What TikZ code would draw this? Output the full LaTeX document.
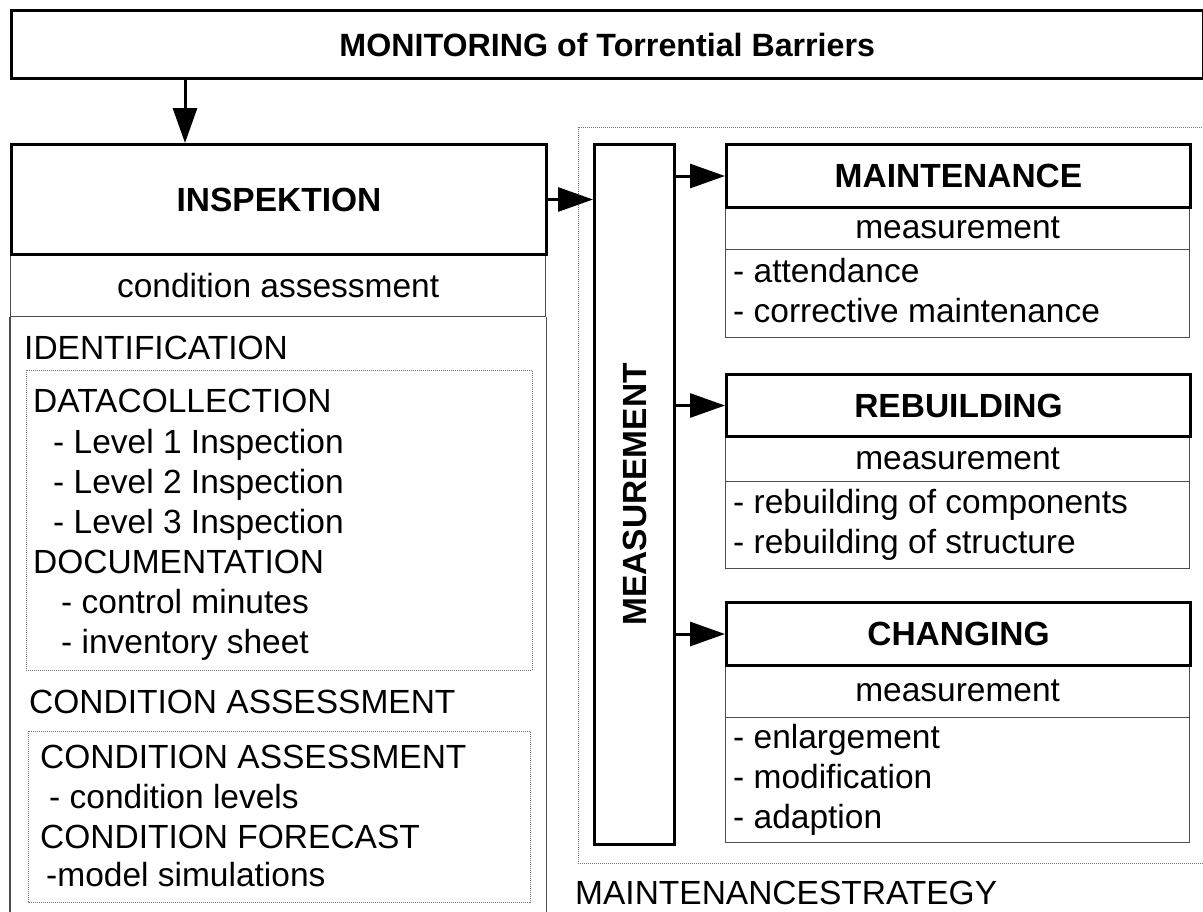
\documentclass[tikz,border=0pt]{standalone}
\usepackage{fontspec}
\setmainfont{Liberation Sans}
\usepackage{graphicx}
\usetikzlibrary{arrows.meta}

\newcommand{\txtfont}{\fontsize{33.5}{40}\selectfont}
\newcommand{\hdfont}{\fontsize{33.5}{40}\selectfont\bfseries}
\newcommand{\ttlfont}{\fontsize{32.2}{40}\selectfont\bfseries}

\tikzset{
	thickbox/.style={draw, line width=3pt, inner sep=0pt, font=\hdfont, anchor=north west},
	thinbox/.style={draw=black!70, line width=1.3pt, inner sep=0pt, font=\txtfont, anchor=north west},
	thinline/.style={draw=black!70, line width=1.3pt},
	dotbox/.style={draw=black!55, line width=1pt, densely dotted},
	txt/.style={inner sep=0pt, anchor=base west, font=\txtfont},
	arrow/.style={line width=3pt, -{Triangle[length=35pt,width=24pt]}},
}

\begin{document}
\begin{tikzpicture}[x=1pt, y=-1pt]
		\useasboundingbox (0,0) rectangle (1203,911);
		
		\node[thickbox, font=\ttlfont, minimum width=1191.5pt, minimum height=68pt] (monitor) at (10,9) {MONITORING of Torrential Barriers};
		
		% left column
		\node[thinbox, minimum width=535pt, minimum height=63pt] (cond) at (10,253) {condition assessment};
		\node[thickbox, minimum width=535pt, minimum height=110pt] (insp) at (10,143) {INSPEKTION};
		\draw[thinline] (cond.south west) -- ++(0,700);
		\draw[thinline] (cond.south east) -- ++(0,700);
		\coordinate (down) at (185,0);
		\draw[arrow] (monitor.south -| down) -- (insp.north -| down);
		
		\node[txt] (ident) at (24,359) {IDENTIFICATION};
		\draw[dotbox] (26,370) rectangle (532,670);
		\node[txt] (data) at (33,412) {DATACOLLECTION};
		\node[txt] (lev1) at (53,453) {- Level 1 Inspection};
		\node[txt] (lev2) at (53,493) {- Level 2 Inspection};
		\node[txt] (lev3) at (53,533) {- Level 3 Inspection};
		\node[txt] (docu) at (33,573) {DOCUMENTATION};
		\node[txt] (minutes) at (61,613) {- control minutes};
		\node[txt] (sheet) at (61,653) {- inventory sheet};
		
		\node[txt] (assess) at (29,713) {CONDITION ASSESSMENT};
		\draw[dotbox] (28,731) rectangle (530,902);
		\node[txt] (assess2) at (40,768) {CONDITION ASSESSMENT};
		\node[txt] (levels) at (49,808) {- condition levels};
		\node[txt] (forecast) at (40,848) {CONDITION FORECAST};
		\node[txt] (simul) at (46,886) {-model simulations};
		
		% right column
		\draw[dotbox] (578,127) rectangle (1230,863);
		\node[txt] (strategy) at (575,904) {MAINTENANCESTRATEGY};
		\node[thickbox, minimum width=80pt, minimum height=700pt] (meas) at (593,143) {\rotatebox{90}{MEASUREMENT}};
		\draw[arrow] (insp.east) -- (insp.east -| meas.west);
		
		\node[thinbox, minimum width=464pt, minimum height=43pt] (mainsub) at (725,206) {measurement};
		\node[thinbox, minimum width=464pt, minimum height=88pt] (mainlist) at (725,249) {};
		\node[thickbox, minimum width=464pt, minimum height=63pt] (maint) at (725,143) {MAINTENANCE};
		\node[txt] (attend) at (733,282) {- attendance};
		\node[txt] (correct) at (733,322) {- corrective maintenance};
		
		\node[thinbox, minimum width=464pt, minimum height=46pt] (rebsub) at (725,435) {measurement};
		\node[thinbox, minimum width=464pt, minimum height=87pt] (reblist) at (725,481) {};
		\node[thickbox, minimum width=464pt, minimum height=62pt] (rebuild) at (725,373) {REBUILDING};
		\node[txt] (compon) at (733,513) {- rebuilding of components};
		\node[txt] (struct) at (733,553) {- rebuilding of structure};
		
		\node[thinbox, minimum width=464pt, minimum height=53pt] (chgsub) at (725,664) {measurement};
		\node[thinbox, minimum width=464pt, minimum height=125pt] (chglist) at (725,717) {};
		\node[thickbox, minimum width=464pt, minimum height=63pt] (change) at (725,601) {CHANGING};
		\node[txt] (enlarge) at (733,748) {- enlargement};
		\node[txt] (modif) at (733,788) {- modification};
		\node[txt] (adapt) at (733,828) {- adaption};
		
		\draw[arrow] (maint.west -| meas.east) -- (maint.west);
		\draw[arrow] (rebuild.west -| meas.east) -- (rebuild.west);
		\draw[arrow] (change.west -| meas.east) -- (change.west);
		
\end{tikzpicture}
\end{document}
